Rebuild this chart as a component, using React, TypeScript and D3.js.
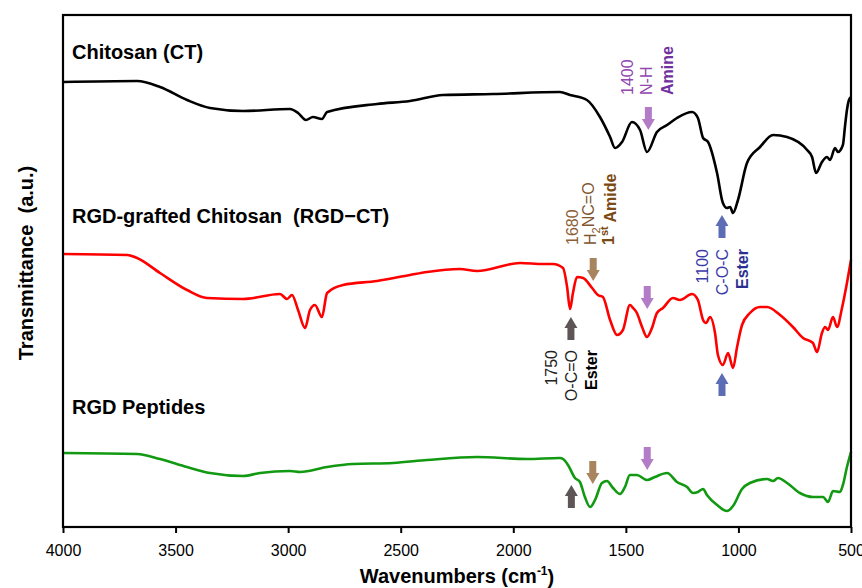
import React, { useEffect, useRef } from "react";
import * as d3 from "d3";

// wavenumbers (cm-1) and transmittance (a.u., offset per trace)
const wnCT = [4000, 3671, 3569, 3449, 3347, 3200, 2992, 2956, 2921, 2890, 2850, 2827, 2605, 2459, 2312, 2090, 1793, 1748, 1673, 1615, 1570, 1548, 1517, 1473, 1437, 1406, 1362, 1317, 1273, 1206, 1180, 1157, 1135, 1095, 1069, 1051, 1037, 1024, 1002, 962, 904, 846, 784, 695, 673, 655, 629, 607, 593, 571, 558, 536, 527, 518, 509, 500];
const tCT = [89.0, 89.2, 88.0, 85.4, 83.8, 83.2, 83.6, 82.8, 81.4, 82.0, 81.6, 83.0, 84.6, 85.2, 86.4, 86.6, 87.0, 86.4, 85.4, 82.0, 78.0, 75.8, 77.0, 81.0, 79.4, 75.0, 79.0, 80.4, 81.8, 83.0, 81.8, 77.8, 77.0, 70.8, 64.8, 63.8, 64.0, 62.8, 65.4, 72.8, 76.0, 78.4, 78.0, 75.4, 74.0, 70.8, 73.0, 74.0, 73.4, 75.8, 75.0, 76.4, 80.0, 83.4, 85.4, 86.0];

const wnRGDCT = [4000, 3715, 3671, 3569, 3449, 3360, 3200, 3036, 3005, 2983, 2956, 2925, 2903, 2881, 2850, 2827, 2756, 2605, 2459, 2383, 2237, 2161, 1970, 1868, 1824, 1779, 1761, 1748, 1735, 1717, 1690, 1650, 1624, 1602, 1570, 1539, 1513, 1482, 1468, 1451, 1428, 1406, 1384, 1362, 1335, 1291, 1260, 1206, 1180, 1157, 1144, 1126, 1104, 1091, 1069, 1046, 1024, 1006, 984, 949, 904, 873, 815, 758, 713, 669, 651, 629, 615, 602, 580, 562, 540, 518, 500];
const tRGDCT = [54.6, 54.4, 53.8, 50.8, 47.4, 45.8, 45.6, 46.6, 45.6, 46.4, 43.4, 39.8, 43.4, 44.4, 42.0, 46.8, 48.4, 49.2, 50.4, 51.0, 51.6, 51.2, 52.8, 52.6, 52.6, 51.8, 48.0, 43.6, 46.8, 50.0, 49.8, 47.8, 46.4, 46.0, 41.4, 38.4, 39.4, 44.4, 43.8, 42.8, 40.0, 38.0, 39.8, 42.8, 43.8, 45.8, 45.4, 46.6, 45.4, 41.4, 40.8, 42.0, 38.8, 34.4, 32.4, 34.8, 31.8, 36.0, 40.4, 42.8, 44.0, 44.0, 42.4, 40.0, 37.8, 36.8, 35.0, 38.8, 40.0, 39.4, 42.0, 40.0, 43.8, 48.8, 53.4];

const wnRGD = [4000, 3671, 3569, 3449, 3347, 3200, 3125, 2992, 2947, 2827, 2712, 2534, 2383, 2161, 1939, 1793, 1779, 1757, 1726, 1704, 1682, 1659, 1637, 1606, 1584, 1557, 1526, 1504, 1482, 1451, 1406, 1371, 1317, 1273, 1228, 1202, 1180, 1157, 1140, 1095, 1051, 1024, 984, 949, 873, 846, 824, 784, 727, 669, 624, 602, 580, 549, 536, 518, 500];
const tRGD = [14.8, 14.6, 13.6, 12.0, 10.8, 10.2, 10.8, 11.2, 11.0, 12.0, 12.6, 12.8, 13.4, 14.0, 13.6, 13.8, 13.6, 12.4, 9.8, 9.0, 6.0, 4.0, 5.4, 8.8, 9.2, 7.8, 6.6, 8.0, 10.4, 10.4, 9.4, 10.0, 10.8, 9.0, 8.0, 6.8, 7.0, 7.6, 6.4, 4.4, 3.2, 4.2, 7.6, 8.8, 9.6, 9.2, 9.8, 8.8, 6.8, 6.0, 6.0, 5.0, 7.2, 7.0, 8.4, 12.0, 15.0];

const seriesNames = ["Chitosan (CT)", "RGD-grafted Chitosan  (RGD\u2212CT)", "RGD Peptides"];
const seriesColors = ["#000000", "#ff0000", "#129912"];
const seriesLabelY = [93.6, 60.8, 22.6];

const xTicks = [4000, 3500, 3000, 2500, 2000, 1500, 1000, 500];

// arrows: wavenumber, tip value, direction (1 = down, -1 = up)
const arrowWn = [1400, 1073, 1744, 1645, 1405, 1073, 1742, 1647, 1405];
const arrowTip = [79.4, 62.4, 42.0, 49.2, 43.6, 30.8, 8.4, 8.6, 11.4];
const arrowDir = [1, -1, -1, 1, 1, -1, -1, 1, 1];
const arrowColor = ["#b27cc6", "#5c6db5", "#5e5656", "#a8845f", "#b27cc6", "#5c6db5", "#5e5656", "#a8845f", "#b27cc6"];

// peak annotations (rotated): baseline wavenumber, anchor value, anchor side
const noteText = ["1400", "N-H", "Amine", "1680", "H2NC=O", "1st Amide", "1750", "O-C=O", "Ester", "1100", "C-O-C", "Ester"];
const noteWn = [1468, 1384, 1291, 1713, 1633, 1553, 1806, 1717, 1628, 1135, 1046, 958];
const noteY = [86.4, 86.4, 86.4, 56.4, 56.4, 56.4, 35.4, 35.4, 35.4, 55.6, 55.6, 55.6];
const noteAnchor = ["start", "start", "start", "start", "start", "start", "end", "end", "end", "end", "end", "end"];
const noteBold = [false, false, true, false, false, true, false, false, true, false, false, true];
const noteColor = ["#9146b0", "#9146b0", "#7030a0", "#8c5f36", "#80562e", "#7a4a12", "#222222", "#222222", "#000000", "#3b3ba8", "#3b3ba8", "#2b2f8f"];

const width = 862;
const height = 588;
const margin = { left: 63, right: 11, top: 15, bottom: 61 };
const font = "Arial, 'Liberation Sans', sans-serif";

const App = () => {
  const chart = useRef<SVGSVGElement>(null);

  useEffect(() => {
    const svg = d3.select(chart.current);
    svg.selectAll("*").remove();

    const x = d3.scaleLinear().domain([4000, 500]).range([margin.left, width - margin.right]);
    const y = d3.scaleLinear().domain([0, 102.4]).range([height - margin.bottom, margin.top]);

    const line = d3
      .line<[number, number]>()
      .x(d => x(d[0]))
      .y(d => y(d[1]))
      .curve(d3.curveMonotoneX);

    const series = [
      d3.zip(wnCT, tCT),
      d3.zip(wnRGDCT, tRGDCT),
      d3.zip(wnRGD, tRGD)
    ] as [number, number][][];

    svg
      .append("g")
      .selectAll("path")
      .data(series)
      .join("path")
      .attr("d", d => line(d))
      .attr("fill", "none")
      .attr("stroke", (d, i) => seriesColors[i])
      .attr("stroke-width", 2.6)
      .attr("stroke-linejoin", "round");

    // frame
    svg
      .append("rect")
      .attr("x", margin.left)
      .attr("y", margin.top)
      .attr("width", width - margin.left - margin.right)
      .attr("height", height - margin.top - margin.bottom)
      .attr("fill", "none")
      .attr("stroke", "#000")
      .attr("stroke-width", 2.2);

    // x axis
    const axis = svg
      .append("g")
      .attr("transform", `translate(0,${height - margin.bottom})`)
      .call(d3.axisBottom(x).tickValues(xTicks).tickSize(6).tickPadding(12).tickFormat(d3.format("d")));
    axis.select(".domain").remove();
    axis.selectAll("line").attr("stroke", "#000").attr("stroke-width", 2);
    axis.selectAll("text").attr("font-family", font).attr("font-size", 16).attr("fill", "#000");

    // series labels
    svg
      .append("g")
      .selectAll("text")
      .data(seriesNames)
      .join("text")
      .attr("x", margin.left + 9)
      .attr("y", (d, i) => y(seriesLabelY[i]))
      .attr("font-family", font)
      .attr("font-size", 20)
      .attr("font-weight", "bold")
      .style("white-space", "pre")
      .text(d => d);

    // arrows
    const arrowPath = (cx: number, tip: number, dir: number) => {
      const hl = 11, hw = 6.5, sw = 3.5, len = 23;
      const b = tip - dir * hl;
      const e = tip - dir * len;
      return `M${cx},${tip}L${cx - hw},${b}L${cx - sw},${b}L${cx - sw},${e}L${cx + sw},${e}L${cx + sw},${b}L${cx + hw},${b}Z`;
    };
    svg
      .append("g")
      .selectAll("path")
      .data(arrowWn)
      .join("path")
      .attr("d", (d, i) => arrowPath(x(d), y(arrowTip[i]), arrowDir[i]))
      .attr("fill", (d, i) => arrowColor[i]);

    // peak notes
    const notes = svg
      .append("g")
      .selectAll("text")
      .data(noteText)
      .join("text")
      .attr("transform", (d, i) => `translate(${x(noteWn[i])},${y(noteY[i])}) rotate(-90)`)
      .attr("text-anchor", (d, i) => noteAnchor[i])
      .attr("font-family", font)
      .attr("font-size", 16)
      .attr("font-weight", (d, i) => (noteBold[i] ? "bold" : "normal"))
      .attr("fill", (d, i) => noteColor[i]);

    notes.each(function (d) {
      const t = d3.select(this);
      if (d === "H2NC=O") {
        t.append("tspan").text("H");
        t.append("tspan").attr("font-size", 11).attr("dy", "0.35em").text("2");
        t.append("tspan").attr("dy", "-0.35em").text("NC=O");
      } else if (d === "1st Amide") {
        t.append("tspan").text("1");
        t.append("tspan").attr("font-size", 11).attr("dy", "-0.5em").text("st");
        t.append("tspan").attr("dy", "0.5em").text(" Amide");
      } else {
        t.text(d);
      }
    });

    // axis titles
    svg
      .append("text")
      .attr("x", (margin.left + width - margin.right) / 2)
      .attr("y", 583)
      .attr("text-anchor", "middle")
      .attr("font-family", font)
      .attr("font-size", 20)
      .attr("font-weight", "bold")
      .call(t => {
        t.append("tspan").text("Wavenumbers (cm");
        t.append("tspan").attr("font-size", 12).attr("dy", "-0.7em").text("-1");
        t.append("tspan").attr("dy", "0.45em").text(")");
      });

    svg
      .append("text")
      .attr("transform", `translate(33,263) rotate(-90)`)
      .attr("text-anchor", "middle")
      .attr("font-family", font)
      .attr("font-size", 20)
      .attr("font-weight", "bold")
      .style("white-space", "pre")
      .text("Transmittance  (a.u.)");
  }, []);

  return (
    <svg
      ref={chart}
      width={width}
      height={height}
      viewBox={`0 0 ${width} ${height}`}
      style={{ position: "absolute", left: 0, top: 0, background: "#fff" }}
    ></svg>
  );
};

export default App;
